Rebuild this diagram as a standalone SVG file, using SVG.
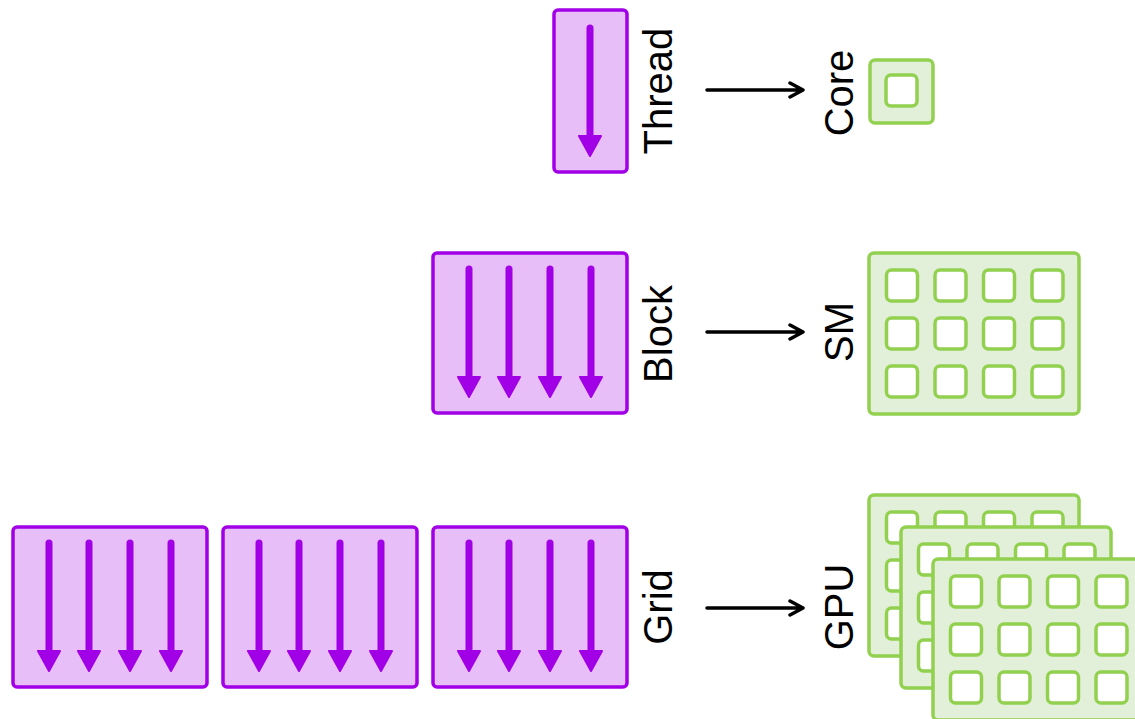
<svg xmlns="http://www.w3.org/2000/svg" width="1135" height="719" viewBox="0 0 1135 719">
  <style>
    .sw { fill: #e8bef8; stroke: #a100e6; stroke-width: 3.5; }
    .hw { fill: #e2f0d9; stroke: #92d050; stroke-width: 3.5; }
    .unit { fill: #ffffff; stroke: #92d050; stroke-width: 3.5; }
    .lbl { font-family: "Liberation Sans", Arial, sans-serif; font-size: 40px; fill: #000000; text-anchor: middle; }
    .link { fill: none; stroke: #000000; stroke-width: 3.5; stroke-linecap: round; stroke-linejoin: round; }
  </style>
  <defs>
    <!-- a single thread: downward purple arrow, top of shaft at origin -->
    <g id="thread-arrow">
      <line x1="0" y1="0" x2="0" y2="110" stroke="#a100e6" stroke-width="7" stroke-linecap="round"/>
      <polygon points="-11,108 11,108 0,128" fill="#a100e6" stroke="#a100e6" stroke-width="2" stroke-linejoin="round"/>
    </g>
    <!-- a block of four threads, box origin at top-left -->
    <g id="thread-block">
      <rect class="sw" x="0" y="0" width="194" height="160" rx="4"/>
      <use href="#thread-arrow" x="36" y="16"/>
      <use href="#thread-arrow" x="76" y="16"/>
      <use href="#thread-arrow" x="117" y="16"/>
      <use href="#thread-arrow" x="158" y="16"/>
    </g>
    <!-- a streaming multiprocessor: 4 x 3 cores -->
    <g id="sm-card">
      <rect class="hw" x="0" y="0" width="210" height="161" rx="5"/>
      <g class="unit">
        <rect x="17.5" y="17" width="31" height="31" rx="5"/>
        <rect x="66" y="17" width="31" height="31" rx="5"/>
        <rect x="114.5" y="17" width="31" height="31" rx="5"/>
        <rect x="163" y="17" width="31" height="31" rx="5"/>
        <rect x="17.5" y="65" width="31" height="31" rx="5"/>
        <rect x="66" y="65" width="31" height="31" rx="5"/>
        <rect x="114.5" y="65" width="31" height="31" rx="5"/>
        <rect x="163" y="65" width="31" height="31" rx="5"/>
        <rect x="17.5" y="113" width="31" height="31" rx="5"/>
        <rect x="66" y="113" width="31" height="31" rx="5"/>
        <rect x="114.5" y="113" width="31" height="31" rx="5"/>
        <rect x="163" y="113" width="31" height="31" rx="5"/>
      </g>
    </g>
  </defs>

  <rect x="0" y="0" width="1135" height="719" fill="#ffffff"/>

  <!-- software side -->
  <g id="thread">
    <rect class="sw" x="554" y="10" width="73" height="162" rx="4"/>
    <use href="#thread-arrow" x="590" y="28"/>
    <text class="lbl" transform="translate(672,91) rotate(-90)">Thread</text>
  </g>

  <g id="block">
    <use href="#thread-block" x="433" y="253"/>
    <text class="lbl" transform="translate(672,334) rotate(-90)">Block</text>
  </g>

  <g id="grid">
    <use href="#thread-block" x="13" y="527"/>
    <use href="#thread-block" x="223" y="527"/>
    <use href="#thread-block" x="433" y="527"/>
    <text class="lbl" transform="translate(672,607) rotate(-90)">Grid</text>
  </g>

  <!-- hardware side -->
  <g id="core">
    <rect class="hw" x="870" y="60" width="63" height="63" rx="5"/>
    <rect class="unit" x="886" y="75" width="31" height="31" rx="5"/>
    <text class="lbl" transform="translate(853,93) rotate(-90)">Core</text>
  </g>

  <g id="sm">
    <use href="#sm-card" x="869" y="253"/>
    <text class="lbl" transform="translate(853,332) rotate(-90)">SM</text>
  </g>

  <g id="gpu">
    <use href="#sm-card" x="869" y="495"/>
    <use href="#sm-card" x="901" y="527"/>
    <use href="#sm-card" x="933" y="559"/>
    <text class="lbl" transform="translate(853,607) rotate(-90)">GPU</text>
  </g>

  <!-- mappings from software to hardware -->
  <g id="connectors" class="link">
    <path d="M707,90 H803 M790,83 L803,90 L790,97"/>
    <path d="M707,332 H803 M790,325 L803,332 L790,339"/>
    <path d="M707,608 H803 M790,601 L803,608 L790,615"/>
  </g>
</svg>
